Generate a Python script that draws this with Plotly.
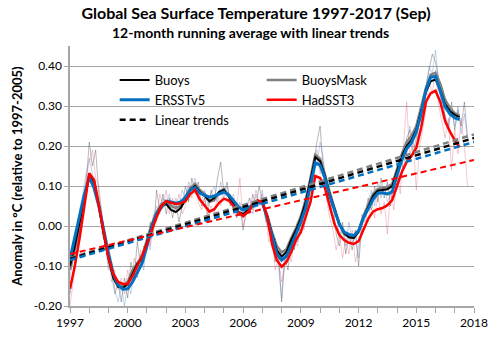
import numpy as np
import plotly.graph_objects as go

# 12-month running averages (degC anomaly vs 1997-2005), quarterly from Jan 1997
buoys_avg = [
    -0.10, -0.05, 0.01, 0.07, 0.125, 0.11, 0.05, -0.02, -0.08, -0.13,
    -0.152, -0.155, -0.145, -0.12, -0.095, -0.08, -0.04, 0.0, 0.03, 0.05,
    0.055, 0.04, 0.035, 0.045, 0.065, 0.09, 0.10, 0.085, 0.075, 0.062,
    0.07, 0.085, 0.09, 0.075, 0.055, 0.035, 0.03, 0.04, 0.055, 0.06,
    0.058, 0.025, -0.02, -0.06, -0.076, -0.065, -0.035, -0.01, 0.02, 0.06,
    0.115, 0.172, 0.162, 0.125, 0.08, 0.04, 0.005, -0.018, -0.028, -0.03,
    -0.015, 0.02, 0.05, 0.075, 0.088, 0.09, 0.092, 0.10, 0.14, 0.175,
    0.20, 0.215, 0.24, 0.285, 0.335, 0.362, 0.366, 0.34, 0.305, 0.287,
    0.278, 0.272,
]
buoysmask_avg = [
    -0.11, -0.06, 0.0, 0.065, 0.13, 0.115, 0.055, -0.015, -0.08, -0.125,
    -0.148, -0.15, -0.14, -0.11, -0.093, -0.075, -0.035, 0.005, 0.035, 0.055,
    0.06, 0.05, 0.045, 0.05, 0.07, 0.095, 0.105, 0.09, 0.08, 0.06,
    0.065, 0.085, 0.092, 0.075, 0.05, 0.03, 0.025, 0.035, 0.05, 0.058,
    0.056, 0.028, -0.015, -0.05, -0.066, -0.058, -0.03, -0.005, 0.025, 0.065,
    0.12, 0.178, 0.168, 0.13, 0.085, 0.045, 0.005, -0.02, -0.027, -0.03,
    -0.012, 0.025, 0.055, 0.08, 0.092, 0.095, 0.098, 0.105, 0.145, 0.18,
    0.21, 0.225, 0.25, 0.295, 0.345, 0.378, 0.383, 0.355, 0.315, 0.295,
    0.282, 0.276,
]
ersst_avg = [
    -0.082, -0.03, 0.025, 0.08, 0.122, 0.095, 0.05, -0.01, -0.068, -0.12,
    -0.148, -0.158, -0.157, -0.14, -0.115, -0.093, -0.05, -0.005, 0.03, 0.047,
    0.062, 0.06, 0.057, 0.06, 0.072, 0.09, 0.096, 0.082, 0.076, 0.072,
    0.075, 0.08, 0.085, 0.078, 0.064, 0.048, 0.04, 0.046, 0.053, 0.058,
    0.058, 0.02, -0.025, -0.07, -0.085, -0.075, -0.05, -0.022, 0.01, 0.045,
    0.10, 0.158, 0.152, 0.12, 0.075, 0.038, 0.005, -0.015, -0.021, -0.024,
    -0.012, 0.02, 0.042, 0.066, 0.082, 0.083, 0.08, 0.085, 0.128, 0.165,
    0.193, 0.208, 0.235, 0.28, 0.34, 0.372, 0.374, 0.338, 0.298, 0.28,
    0.27, 0.266,
]
hadsst_avg = [
    -0.157, -0.10, -0.03, 0.05, 0.132, 0.115, 0.05, -0.02, -0.08, -0.12,
    -0.14, -0.145, -0.145, -0.125, -0.10, -0.075, -0.045, -0.01, 0.022, 0.05,
    0.062, 0.058, 0.055, 0.057, 0.062, 0.08, 0.09, 0.066, 0.05, 0.036,
    0.042, 0.058, 0.068, 0.064, 0.05, 0.036, 0.025, 0.035, 0.053, 0.064,
    0.06, 0.025, -0.045, -0.085, -0.102, -0.09, -0.065, -0.035, -0.015, 0.02,
    0.06, 0.125, 0.12, 0.095, 0.05, 0.005, -0.022, -0.035, -0.042, -0.045,
    -0.038, -0.01, 0.018, 0.036, 0.042, 0.045, 0.052, 0.065, 0.10, 0.135,
    0.16, 0.175, 0.195, 0.245, 0.31, 0.332, 0.338, 0.31, 0.262, 0.236,
    0.215, 0.197,
]

# Monthly anomalies, every second month from Jan 1997 to Sep 2017
buoys_month = [
    -0.17, -0.12, -0.06, -0.01, 0.07, 0.10, 0.21, 0.15, 0.19, 0.08, 0.02, -0.03,
    -0.10, -0.12, -0.17, -0.14, -0.19, -0.13, -0.18, -0.09, -0.13, -0.04, -0.10, -0.05,
    -0.06, 0.01, -0.02, 0.09, 0.04, 0.08, 0.03, 0.07, 0.02, 0.06, 0.01, 0.05,
    0.10, 0.06, 0.12, 0.08, 0.11, 0.05, 0.07, 0.03, 0.09, 0.06, 0.12, 0.16,
    0.08, 0.11, 0.05, 0.07, 0.02, 0.05, -0.01, 0.04, 0.03, 0.08, 0.05, 0.10,
    0.06, 0.02, -0.01, -0.04, -0.09, -0.07, -0.19, -0.08, -0.11, -0.03, -0.06, 0.01,
    -0.02, 0.06, 0.03, 0.11, 0.15, 0.21, 0.25, 0.14, 0.12, 0.04, 0.06, -0.02,
    -0.05, 0.01, -0.07, -0.02, -0.06, -0.01, -0.10, 0.00, 0.03, 0.07, 0.04, 0.10,
    0.06, 0.12, 0.07, 0.11, 0.05, 0.12, 0.10, 0.17, 0.14, 0.22, 0.24, 0.18,
    0.22, 0.27, 0.26, 0.35, 0.39, 0.43, 0.41, 0.37, 0.33, 0.27, 0.25, 0.31,
    0.24, 0.29, 0.25, 0.31, 0.22,
]
hadsst_month = [
    -0.20, -0.14, -0.09, -0.03, 0.04, 0.12, 0.16, 0.19, 0.12, 0.10, 0.03, -0.04,
    -0.07, -0.14, -0.11, -0.16, -0.13, -0.17, -0.11, -0.15, -0.08, -0.12, -0.06, -0.09,
    -0.02, -0.05, 0.03, 0.01, 0.08, 0.05, 0.09, 0.03, 0.07, 0.04, 0.08, 0.03,
    0.05, 0.10, 0.07, 0.11, 0.06, 0.04, 0.07, 0.01, 0.05, 0.03, 0.08, 0.05,
    0.10, 0.06, 0.08, 0.03, 0.05, 0.12, 0.00, 0.03, 0.07, 0.04, 0.09, 0.06,
    0.08, 0.03, -0.04, -0.02, -0.11, -0.08, -0.14, -0.10, -0.06, -0.09, -0.03, -0.05,
    0.02, -0.01, 0.07, 0.05, 0.14, 0.19, 0.13, 0.16, 0.07, 0.02, -0.01, -0.06,
    -0.02, -0.08, -0.03, -0.07, -0.01, -0.09, -0.05, -0.02, 0.04, 0.01, 0.07, 0.02,
    0.08, 0.03, 0.06, -0.02, 0.09, 0.04, 0.13, 0.08, 0.19, 0.31, 0.17, 0.22,
    0.09, 0.20, 0.24, 0.29, 0.36, 0.33, 0.39, 0.30, 0.26, 0.22, 0.27, 0.14,
    0.24, 0.18, 0.27, 0.20, 0.10,
]
ersst_month = [
    -0.13, -0.08, -0.02, 0.04, 0.08, 0.13, 0.17, 0.13, 0.09, 0.06, -0.02, -0.05,
    -0.11, -0.09, -0.16, -0.19, -0.15, -0.20, -0.14, -0.17, -0.10, -0.13, -0.07, -0.11,
    -0.03, -0.06, 0.02, 0.05, 0.03, 0.07, 0.05, 0.08, 0.04, 0.07, 0.05, 0.09,
    0.07, 0.11, 0.09, 0.12, 0.08, 0.06, 0.09, 0.05, 0.08, 0.10, 0.06, 0.11,
    0.07, 0.10, 0.06, 0.08, 0.03, 0.06, 0.02, 0.05, 0.07, 0.03, 0.08, 0.05,
    0.09, 0.01, 0.02, -0.05, -0.03, -0.10, -0.18, -0.06, -0.09, -0.04, -0.01, -0.04,
    0.03, 0.05, 0.04, 0.13, 0.17, 0.15, 0.21, 0.17, 0.10, 0.07, 0.02, 0.04,
    -0.03, 0.00, -0.05, 0.01, -0.04, -0.02, -0.08, 0.03, 0.01, 0.06, 0.09, 0.05,
    0.11, 0.07, 0.10, 0.06, 0.08, 0.12, 0.09, 0.15, 0.20, 0.18, 0.25, 0.21,
    0.19, 0.28, 0.25, 0.34, 0.40, 0.38, 0.44, 0.35, 0.30, 0.28, 0.24, 0.29,
    0.25, 0.30, 0.23, 0.28, 0.21,
]

# Linear trend end points (1997 -> 2018)
trend_years = [1997, 2018]
buoys_trend = [-0.082, 0.220]
buoysmask_trend = [-0.080, 0.229]
ersst_trend = [-0.085, 0.210]
hadsst_trend = [-0.070, 0.165]

x_tick_years = [1997, 2000, 2003, 2006, 2009, 2012, 2015, 2018]
y_tick_values = [-0.20, -0.10, 0.00, 0.10, 0.20, 0.30, 0.40]
y_tick_labels = ["-0.20", "-0.10", "0.00", "0.10", "0.20", "0.30", "0.40"]

avg_t = lambda s: 1997 + 0.25 * np.arange(len(s))
month_t = lambda s: 1997 + np.arange(len(s)) / 6.0

FONT = "Lato"
BLACK = "#000000"
GRAY = "#808080"
BLUE = "#0070C0"
RED = "#FF0000"

fig = go.Figure()

# faint monthly series
for vals, col in [
    (buoys_month, "rgba(80,80,80,0.40)"),
    (ersst_month, "rgba(70,120,200,0.32)"),
    (hadsst_month, "rgba(220,60,90,0.28)"),
]:
    fig.add_trace(go.Scatter(x=month_t(vals), y=vals, mode="lines",
                             line=dict(color=col, width=1),
                             showlegend=False, hoverinfo="skip"))

# running averages
fig.add_trace(go.Scatter(x=avg_t(buoysmask_avg), y=buoysmask_avg, mode="lines",
                         name="BuoysMask", legendrank=2,
                         line=dict(color=GRAY, width=2.5)))
fig.add_trace(go.Scatter(x=avg_t(buoys_avg), y=buoys_avg, mode="lines",
                         name="Buoys", legendrank=1,
                         line=dict(color=BLACK, width=2)))
fig.add_trace(go.Scatter(x=avg_t(ersst_avg), y=ersst_avg, mode="lines",
                         name="ERSSTv5", legendrank=3,
                         line=dict(color=BLUE, width=3)))
fig.add_trace(go.Scatter(x=avg_t(hadsst_avg), y=hadsst_avg, mode="lines",
                         name="HadSST3", legendrank=4,
                         line=dict(color=RED, width=2.5)))

# linear trends
DASH = "6px,4px"
fig.add_trace(go.Scatter(x=trend_years, y=buoysmask_trend, mode="lines",
                         showlegend=False, line=dict(color=GRAY, width=2.5, dash=DASH)))
fig.add_trace(go.Scatter(x=trend_years, y=buoys_trend, mode="lines",
                         name="Linear trends", legendrank=5,
                         line=dict(color=BLACK, width=2.5, dash=DASH)))
fig.add_trace(go.Scatter(x=trend_years, y=ersst_trend, mode="lines",
                         showlegend=False, line=dict(color=BLUE, width=2.5, dash=DASH)))
fig.add_trace(go.Scatter(x=trend_years, y=hadsst_trend, mode="lines",
                         showlegend=False, line=dict(color=RED, width=2, dash=DASH)))

fig.update_layout(
    width=500, height=346,
    margin=dict(l=70, r=23, t=46, b=40),
    paper_bgcolor="white", plot_bgcolor="white",
    font=dict(family=FONT, size=12, color="#000000"),
    title=dict(text="<b>Global Sea Surface Temperature 1997-2017 (Sep)</b>",
               font=dict(family=FONT, size=16, color="#000000"),
               x=0.512, xanchor="center", xref="container",
               y=1 - 13 / 346, yanchor="middle", yref="container"),
    annotations=[dict(text="<b>12-month running average with linear trends</b>",
                      xref="paper", yref="paper",
                      x=(251.5 - 70) / 407, y=1 + (46 - 33) / 260,
                      xanchor="center", yanchor="middle", showarrow=False,
                      font=dict(family=FONT, size=14, color="#000000"))],
    legend=dict(orientation="h", x=(115 - 70) / 407, y=(306 - 65) / 260,
                xanchor="left", yanchor="top", entrywidth=102,
                bgcolor="rgba(0,0,0,0)", font=dict(family=FONT, size=13),
                traceorder="normal"),
    showlegend=True,
)

fig.update_xaxes(range=[1997, 2018], tickvals=x_tick_years,
                 ticks="outside", ticklen=5, tickcolor="#a6a6a6",
                 showline=True, linecolor="#a6a6a6", linewidth=1.5,
                 showgrid=False, zeroline=False,
                 tickfont=dict(family=FONT, size=12, color="#000000"),
                 minor=dict(dtick=1, ticks="outside", ticklen=5,
                            tickcolor="#a6a6a6", showgrid=False))
fig.update_yaxes(range=[-0.2, 0.45], tickvals=y_tick_values, ticktext=y_tick_labels,
                 ticks="outside", ticklen=4, tickcolor="#a6a6a6",
                 showline=True, linecolor="#a6a6a6", linewidth=1.5,
                 showgrid=True, gridcolor="#a6a6a6", gridwidth=1.2, zeroline=False,
                 tickfont=dict(family=FONT, size=12, color="#000000"),
                 title=dict(text="<b>Anomaly in °C (relative to 1997-2005)</b>",
                            font=dict(family=FONT, size=13, color="#000000"),
                            standoff=8))

fig.write_html("out.html")
